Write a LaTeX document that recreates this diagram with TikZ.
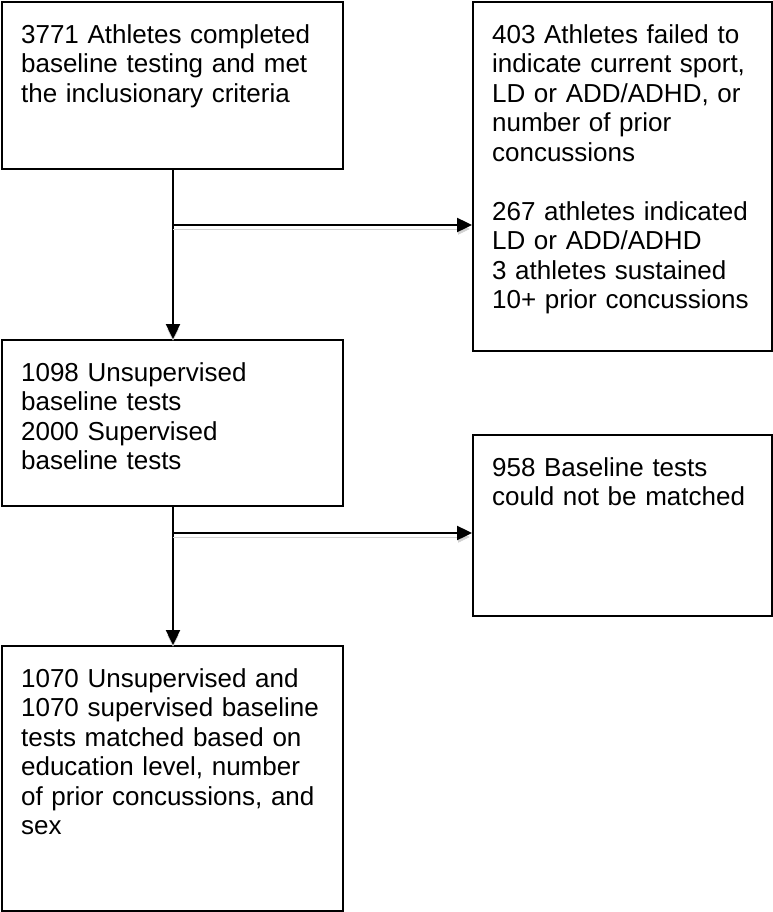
\documentclass[tikz,border=0pt]{standalone}
\usepackage{fontspec}
\setmainfont{Liberation Sans}
\usetikzlibrary{arrows.meta}
\tikzset{
  flowbox/.style={draw=black, line width=2.2pt, anchor=north west, align=left, inner xsep=19pt, inner ysep=0pt, text height=41pt, font=\fontsize{26pt}{29.5pt}\selectfont},
  arrow/.style={-{Triangle[length=15pt, width=14pt]}, line width=2.4pt, draw=black, preaction={draw=black!18, transform canvas={yshift=-4pt}}}
}
\begin{document}
\begin{tikzpicture}[x=1pt, y=-1pt]
  \useasboundingbox (0,0) rectangle (772,912);

  \node[flowbox, text width=303pt, text depth=126pt] (base) at (1,1) {3771 Athletes completed\\baseline testing and met\\the inclusionary criteria};
  \node[flowbox, text width=261pt, text depth=308pt] (excl) at (472,1) {403 Athletes failed to\\indicate current sport,\\LD or ADD/ADHD, or\\number of prior\\concussions\\[29.5pt]267 athletes indicated\\LD or ADD/ADHD\\3 athletes sustained\\10+ prior concussions};
  \node[flowbox, text width=303pt, text depth=125pt] (split) at (1,339) {1098 Unsupervised\\baseline tests\\2000 Supervised\\baseline tests};
  \node[flowbox, text width=261pt, text depth=140pt] (drop) at (472,434) {958 Baseline tests\\could not be matched};
  \node[flowbox, text width=303pt, text depth=224pt] (match) at (1,645) {1070 Unsupervised and\\1070 supervised baseline\\tests matched based on\\education level, number\\of prior concussions, and\\sex};

  \coordinate (fork1) at (173,225);
  \coordinate (fork2) at (173,533);

  \draw[arrow] (base.south -| fork1) -- (split.north -| fork1);
  \draw[arrow] (fork1) -- (fork1 -| excl.west);
  \draw[arrow] (split.south -| fork2) -- (match.north -| fork2);
  \draw[arrow] (fork2) -- (fork2 -| drop.west);
\end{tikzpicture}
\end{document}
